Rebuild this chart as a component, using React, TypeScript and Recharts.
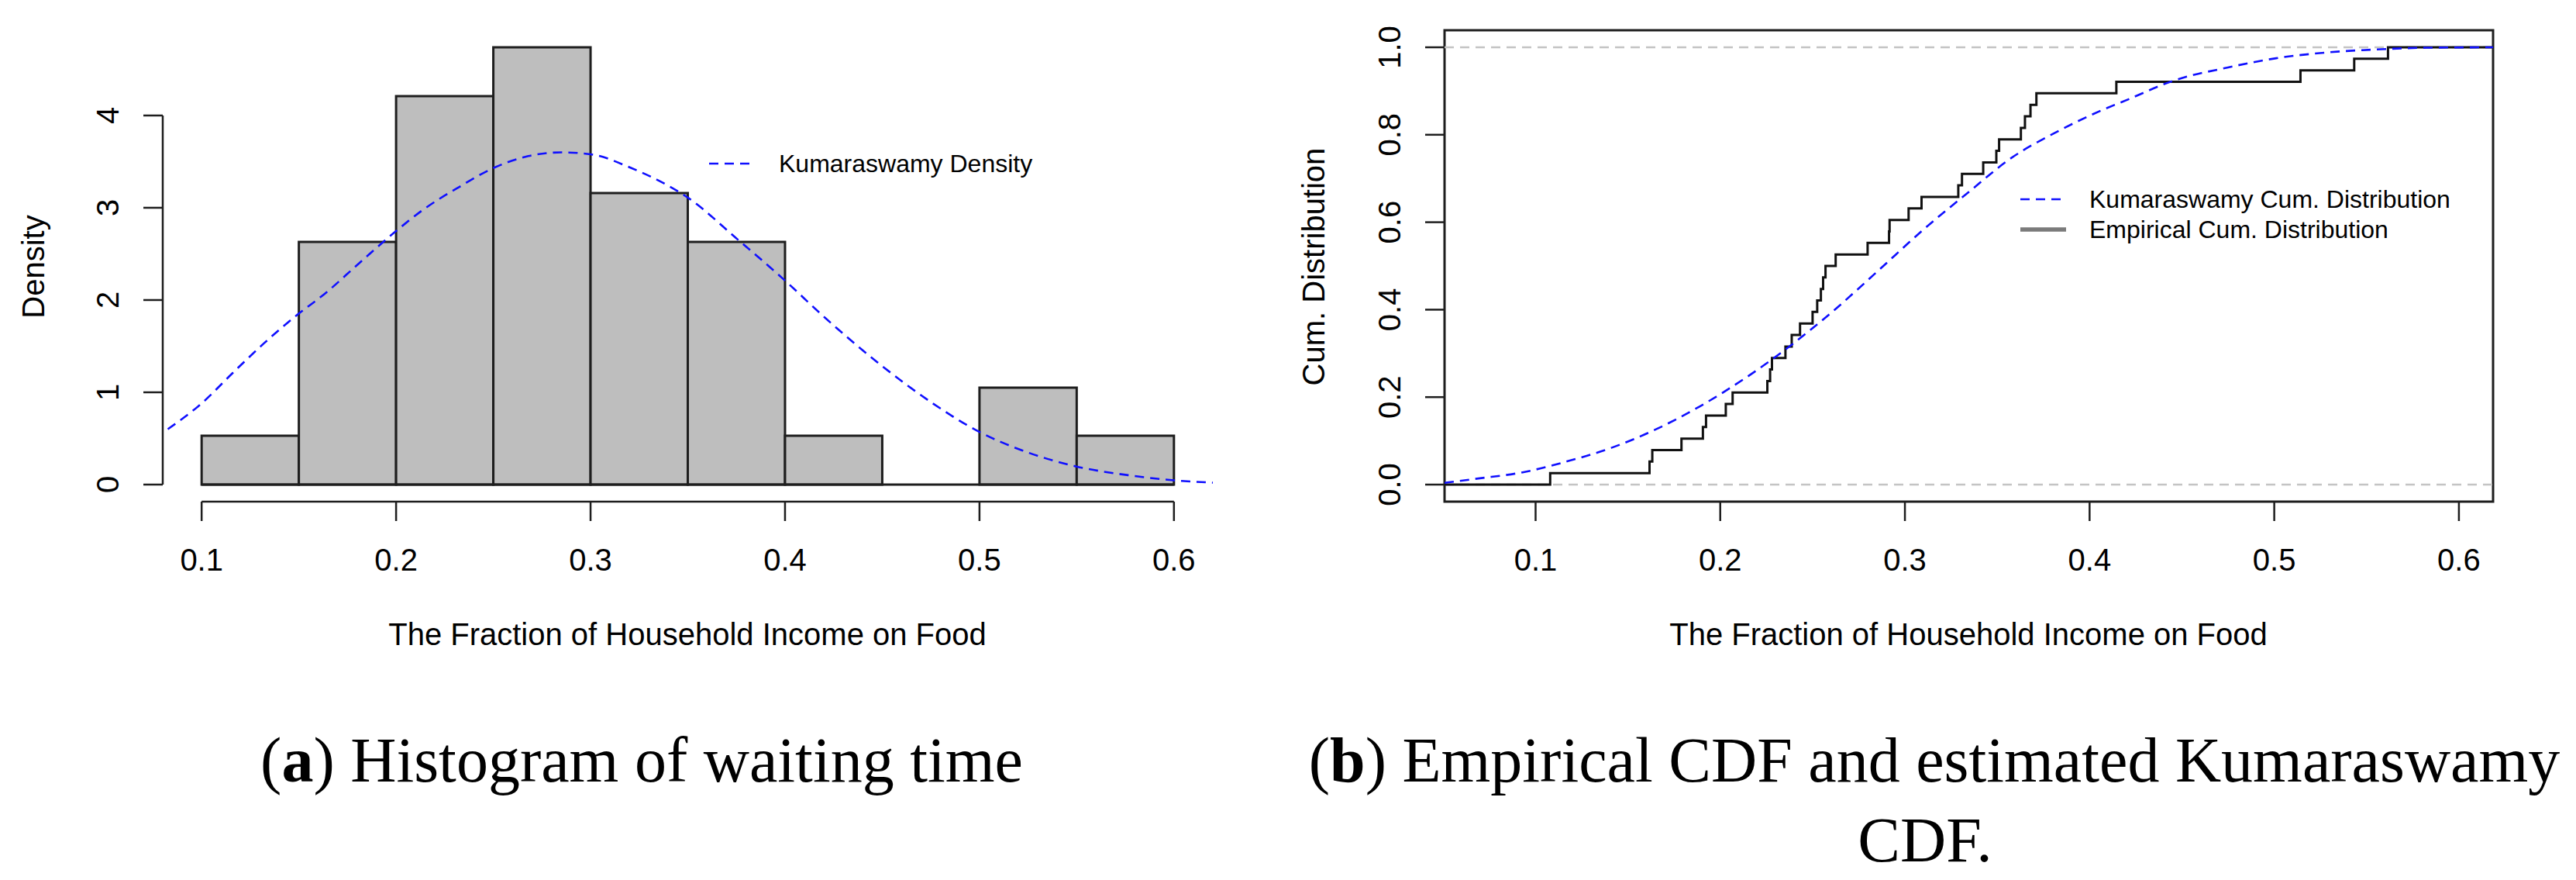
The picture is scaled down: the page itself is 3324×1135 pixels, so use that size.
import React from 'react';
import { ComposedChart, Line, XAxis, YAxis, ReferenceArea, ReferenceLine } from 'recharts';

// histogram of the food share, bins of width 0.05
const binStarts = [0.1, 0.15, 0.2, 0.25, 0.3, 0.35, 0.4, 0.45, 0.5, 0.55];
const binEnds = [0.15, 0.2, 0.25, 0.3, 0.35, 0.4, 0.45, 0.5, 0.55, 0.6];
const binDensity = [0.53, 2.63, 4.21, 4.74, 3.16, 2.63, 0.53, 0, 1.05, 0.53];

// fitted Kumaraswamy density
const densityX = [0.0826, 0.1, 0.116, 0.132, 0.148, 0.164, 0.18, 0.199, 0.214, 0.232, 0.25, 0.268, 0.285, 0.3, 0.321, 0.339, 0.35, 0.376, 0.399, 0.421, 0.449, 0.476, 0.5, 0.522, 0.549, 0.577, 0.6, 0.621];
const densityY = [0.6, 0.88, 1.21, 1.53, 1.82, 2.08, 2.38, 2.73, 2.98, 3.22, 3.43, 3.56, 3.6, 3.58, 3.43, 3.25, 3.11, 2.65, 2.23, 1.8, 1.3, 0.88, 0.57, 0.37, 0.2, 0.1, 0.046, 0.02];

// observed fractions of household income spent on food (sorted)
const foodShare = [
  0.1079, 0.1617, 0.1632, 0.179, 0.1906, 0.1923, 0.203, 0.2067, 0.2255, 0.227,
  0.228, 0.2353, 0.2387, 0.2432, 0.25, 0.2525, 0.2545, 0.2557, 0.257, 0.2625,
  0.2798, 0.2914, 0.2917, 0.302, 0.309, 0.3289, 0.3309, 0.3424, 0.3495, 0.351,
  0.3628, 0.365, 0.368, 0.3712, 0.4145, 0.5142, 0.5433, 0.5616,
];

// fitted Kumaraswamy CDF
const cdfX = [0.0507, 0.069, 0.093, 0.117, 0.141, 0.165, 0.189, 0.213, 0.2375, 0.262, 0.286, 0.31, 0.334, 0.358, 0.382, 0.406, 0.421, 0.445, 0.475, 0.501, 0.528, 0.555, 0.582, 0.6185];
const cdfY = [0.004, 0.014, 0.028, 0.053, 0.084, 0.126, 0.179, 0.242, 0.316, 0.4, 0.491, 0.583, 0.667, 0.748, 0.806, 0.855, 0.881, 0.923, 0.954, 0.975, 0.988, 0.995, 0.999, 1.0];

const xTicks = [0.1, 0.2, 0.3, 0.4, 0.5, 0.6];
const densityTicks = [0, 1, 2, 3, 4];
const cdfTicks = [0, 0.2, 0.4, 0.6, 0.8, 1];

const histXDomain = [0.08, 0.62];
const histYDomain = [-0.185, 4.924];
const cdfXDomain = [0.0507, 0.6185];
const cdfYDomain = [-0.039, 1.039];

const SANS = '"Liberation Sans", Arial, Helvetica, sans-serif';
const SERIF = '"Liberation Serif", "Times New Roman", serif';
const INK = '#1e1e1e';
const BLUE = '#1010ff';

const densityData = densityX.map((x, i) => ({ x, y: densityY[i] }));
const cdfData = cdfX.map((x, i) => ({ x, y: cdfY[i] }));
const ecdfData = [
  { x: cdfXDomain[0], y: 0 },
  ...foodShare.map((x, i) => ({ x, y: (i + 1) / foodShare.length })),
  { x: cdfXDomain[1], y: 1 },
];

function XTick(props: any) {
  const { x, y, payload } = props;
  return (
    <text x={x} y={y} dy={64} textAnchor="middle" fontFamily={SANS} fontSize={40} fill="#000">
      {payload.value.toFixed(1)}
    </text>
  );
}

function makeYTick(digits: number) {
  return (props: any) => {
    const { x, y, payload } = props;
    const bx = x - 32;
    return (
      <text x={bx} y={y} transform={`rotate(-90 ${bx} ${y})`} textAnchor="middle" fontFamily={SANS} fontSize={40} fill="#000">
        {payload.value.toFixed(digits)}
      </text>
    );
  };
}

const tickStyle = { stroke: INK, strokeWidth: 2.5 };

function HistogramPanel() {
  return (
    <ComposedChart width={1662} height={760} margin={{ top: 39, right: 97, left: 10, bottom: 3 }}>
      <XAxis
        type="number"
        dataKey="x"
        domain={histXDomain}
        ticks={xTicks}
        allowDataOverflow
        axisLine={false}
        tickLine={tickStyle}
        tickSize={25}
        tickMargin={0}
        height={110}
        tick={<XTick />}
        interval={0}
      />
      <YAxis
        type="number"
        domain={histYDomain}
        ticks={densityTicks}
        allowDataOverflow
        axisLine={false}
        tickLine={tickStyle}
        tickSize={25}
        tickMargin={0}
        width={200}
        tick={makeYTick(0)}
        interval={0}
      />
      {binStarts.map((s, i) =>
        binDensity[i] > 0 ? (
          <ReferenceArea
            key={s}
            x1={s}
            x2={binEnds[i]}
            y1={0}
            y2={binDensity[i]}
            fill="#bebebe"
            fillOpacity={1}
            stroke={INK}
            strokeWidth={3}
            ifOverflow="visible"
          />
        ) : null
      )}
      <ReferenceLine segment={[{ x: binStarts[0], y: 0 }, { x: binEnds[binEnds.length - 1], y: 0 }]} stroke={INK} strokeWidth={3} ifOverflow="visible" />
      <ReferenceLine segment={[{ x: histXDomain[0], y: 0 }, { x: histXDomain[0], y: 4 }]} stroke={INK} strokeWidth={2.5} ifOverflow="visible" />
      <ReferenceLine segment={[{ x: 0.1, y: histYDomain[0] }, { x: 0.6, y: histYDomain[0] }]} stroke={INK} strokeWidth={2.5} ifOverflow="visible" />
      <Line
        data={densityData}
        dataKey="y"
        type="monotone"
        stroke={BLUE}
        strokeWidth={2.6}
        strokeDasharray="12 8"
        dot={false}
        isAnimationActive={false}
      />
    </ComposedChart>
  );
}

function CdfPanel() {
  return (
    <ComposedChart width={1662} height={760} margin={{ top: 39, right: 107, left: 2, bottom: 3 }}>
      <XAxis
        type="number"
        dataKey="x"
        domain={cdfXDomain}
        ticks={xTicks}
        allowDataOverflow
        axisLine={false}
        tickLine={tickStyle}
        tickSize={25}
        tickMargin={0}
        height={110}
        tick={<XTick />}
        interval={0}
      />
      <YAxis
        type="number"
        domain={cdfYDomain}
        ticks={cdfTicks}
        allowDataOverflow
        axisLine={false}
        tickLine={tickStyle}
        tickSize={25}
        tickMargin={0}
        width={200}
        tick={makeYTick(1)}
        interval={0}
      />
      <ReferenceLine y={0} stroke="#c4c4c4" strokeWidth={2.5} strokeDasharray="12 8" />
      <ReferenceLine y={1} stroke="#c4c4c4" strokeWidth={2.5} strokeDasharray="12 8" />
      <ReferenceArea
        x1={cdfXDomain[0]}
        x2={cdfXDomain[1]}
        y1={cdfYDomain[0]}
        y2={cdfYDomain[1]}
        fill="none"
        stroke={INK}
        strokeWidth={3}
        ifOverflow="visible"
      />
      <Line
        data={ecdfData}
        dataKey="y"
        type="stepAfter"
        stroke="#111"
        strokeWidth={3}
        dot={false}
        isAnimationActive={false}
      />
      <Line
        data={cdfData}
        dataKey="y"
        type="monotone"
        stroke={BLUE}
        strokeWidth={2.6}
        strokeDasharray="12 8"
        dot={false}
        isAnimationActive={false}
      />
    </ComposedChart>
  );
}

// titles, legends and sub-captions laid over both panels
function Annotations() {
  const axisText = { fontFamily: SANS, fontSize: 40, fill: '#000' };
  const legendText = { fontFamily: SANS, fontSize: 32, fill: '#000' };
  const captionText = { fontFamily: SERIF, fontSize: 82, fill: '#000' };
  return (
    <svg width={3324} height={1135} style={{ position: 'absolute', left: 0, top: 0, pointerEvents: 'none' }}>
      <text x={57} y={344} transform="rotate(-90 57 344)" textAnchor="middle" {...axisText}>Density</text>
      <text x={887} y={832} textAnchor="middle" {...axisText}>The Fraction of Household Income on Food</text>
      <text x={1709} y={344} transform="rotate(-90 1709 344)" textAnchor="middle" {...axisText}>Cum. Distribution</text>
      <text x={2540} y={832} textAnchor="middle" {...axisText}>The Fraction of Household Income on Food</text>

      <line x1={915} x2={968} y1={211} y2={211} stroke={BLUE} strokeWidth={2.6} strokeDasharray="12 8" />
      <text x={1005} y={222} {...legendText}>Kumaraswamy Density</text>

      <line x1={2607} x2={2659} y1={257} y2={257} stroke={BLUE} strokeWidth={2.6} strokeDasharray="12 8" />
      <text x={2696} y={268} {...legendText}>Kumaraswamy Cum. Distribution</text>
      <line x1={2607} x2={2666} y1={296} y2={296} stroke="#7a7a7a" strokeWidth={5.5} />
      <text x={2696} y={307} {...legendText}>Empirical Cum. Distribution</text>

      <text x={828} y={1008} textAnchor="middle" {...captionText}>
        (<tspan fontWeight="bold">a</tspan>) Histogram of waiting time
      </text>
      <text x={2496} y={1008} textAnchor="middle" {...captionText}>
        (<tspan fontWeight="bold">b</tspan>) Empirical CDF and estimated Kumaraswamy
      </text>
      <text x={2484} y={1111} textAnchor="middle" {...captionText}>CDF.</text>
    </svg>
  );
}

export default function App() {
  return (
    <div style={{ position: 'absolute', left: 0, top: 0, width: 3324, height: 1135, background: '#fff', overflow: 'hidden' }}>
      <div style={{ position: 'absolute', left: 0, top: 0 }}>
        <HistogramPanel />
      </div>
      <div style={{ position: 'absolute', left: 1662, top: 0 }}>
        <CdfPanel />
      </div>
      <Annotations />
    </div>
  );
}
